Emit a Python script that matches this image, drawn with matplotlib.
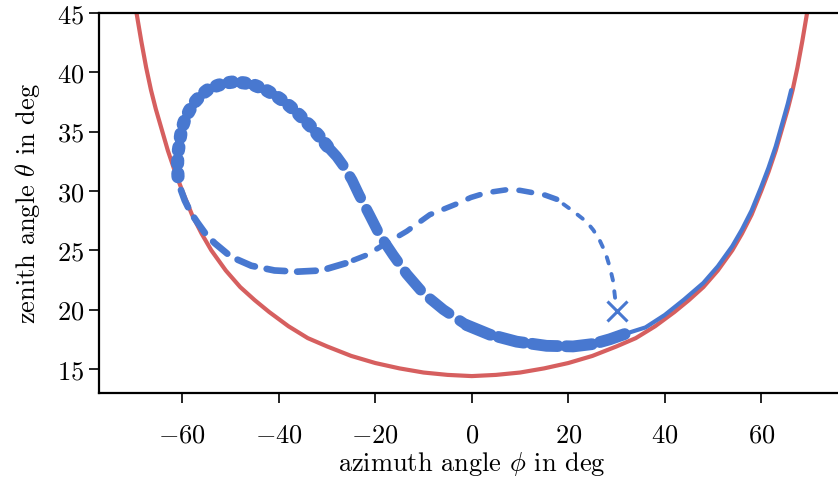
import matplotlib
matplotlib.use("Agg")
import matplotlib.pyplot as plt

plt.rcParams['font.family'] = 'serif'
plt.rcParams['font.serif'] = ['cmr10', 'DejaVu Serif']
plt.rcParams['mathtext.fontset'] = 'cm'
plt.rcParams['axes.formatter.use_mathtext'] = True

# boundary curve (red)
bound_phi = [-69.5, -68.5, -67.5, -66.5, -65.5, -64.5, -63.0, -61.5, -60.0, -58.0, -56.0,
             -54.0, -51.0, -48.0, -45.0, -42.0, -38.0, -34.0, -30.0, -25.0, -20.0, -15.0,
             -10.0, -5.0, 0.0, 5.0, 10.0, 15.0, 20.0, 25.0, 30.0, 34.0, 38.0, 42.0, 45.0,
             48.0, 51.0, 54.0, 56.0, 58.0, 60.0, 61.5, 63.0, 64.5, 65.5, 66.5, 67.5, 68.5, 69.5]
bound_theta = [45.0, 42.6, 40.4, 38.5, 36.9, 35.5, 33.4, 31.6, 30.0, 28.0, 26.4,
               25.0, 23.3, 21.9, 20.8, 19.8, 18.6, 17.6, 16.9, 16.1, 15.5, 15.05,
               14.7, 14.5, 14.4, 14.5, 14.7, 15.05, 15.5, 16.1, 16.9, 17.6, 18.6, 19.8, 20.8,
               21.9, 23.3, 25.0, 26.4, 28.0, 30.0, 31.6, 33.4, 35.5, 36.9, 38.5, 40.4, 42.6, 45.0]

# trajectory (blue), split into pieces of the path
start_phi, start_theta = 30.0, 19.9

a1_phi = [29.7, 29.3, 28.6, 27.7, 26.5, 25.2, 23.8, 21.0, 17.6]
a1_theta = [21.0, 22.4, 23.6, 24.8, 25.85, 26.7, 27.4, 28.3, 29.3]
a2_phi = [17.6, 15.2, 12.7, 10.0, 7.2, 3.0, -0.2, -3.2, -8.7, -13.5, -17.7, -21.8, -26.2]
a2_theta = [29.3, 29.65, 29.85, 30.05, 30.1, 29.85, 29.45, 28.9, 28.0, 26.6, 25.6, 24.6, 23.9]
b_phi = [-26.2, -31.2, -36.1, -40.9, -45.7, -49.9, -53.3, -55.2, -56.8, -58.3, -59.5, -60.4, -60.9]
b_theta = [23.9, 23.3, 23.2, 23.3, 23.7, 24.45, 25.6, 26.4, 27.3, 28.2, 29.2, 30.2, 31.2]
c_phi = [-60.9, -61.0, -60.9, -60.2, -59.5, -58.5, -57.4, -56.1, -54.5, -52.6, -50.9, -49.2,
         -47.1, -45.0, -42.9, -40.9, -38.8, -36.7, -35.0, -33.3, -31.5, -29.8]
c_theta = [31.2, 32.2, 33.2, 35.1, 36.0, 36.8, 37.5, 38.1, 38.6, 38.9, 39.1, 39.2,
           39.1, 38.9, 38.55, 38.1, 37.5, 36.8, 36.1, 35.4, 34.55, 33.7]
d_phi = [-29.8, -28.0, -26.4, -24.8, -23.4, -21.1, -19.1, -16.3, -13.5, -10.1, -5.9, -1.1]
d_theta = [33.7, 32.9, 32.0, 30.9, 29.7, 27.9, 26.3, 24.6, 23.0, 21.4, 20.0, 18.7]
e_phi = [-1.1, 3.7, 9.3, 15.5, 21.0, 25.1, 28.6, 32.1]
e_theta = [18.7, 17.9, 17.3, 16.95, 16.9, 17.1, 17.5, 18.0]
f_phi = [32.1, 36.0, 40.0, 44.0, 48.0, 51.0, 54.0, 56.0, 58.0, 60.0, 61.5, 63.0, 64.5, 65.5, 66.2]
f_theta = [18.0, 18.5, 19.55, 20.85, 22.25, 23.65, 25.35, 26.75, 28.35, 30.35, 31.95, 33.75,
           35.9, 37.35, 38.5]

red = '#d65f5f'
blue = '#4878d0'

fig = plt.figure(figsize=(8.38, 4.81), dpi=100)
ax = fig.add_axes([0.118, 0.181, 0.89, 0.79])

ax.plot(bound_phi, bound_theta, color=red, lw=3.0, solid_capstyle='butt',
        solid_joinstyle='round')

pieces = [
    (a1_phi, a1_theta, 2.8, (1.7, 2.8)),
    (a2_phi, a2_theta, 4.0, (2.3, 2.4)),
    (b_phi, b_theta, 4.8, (2.8, 1.8)),
    (c_phi, c_theta, 9.5, (0.25, 0.75)),
    (d_phi, d_theta, 7.8, (2.2, 1.2)),
    (e_phi, e_theta, 8.5, (2.2, 0.7)),
]
for xs, ys, w, pat in pieces:
    ax.plot(xs, ys, color=blue, lw=w, dashes=pat, dash_capstyle='round',
            dash_joinstyle='round')
ax.plot(f_phi, f_theta, color=blue, lw=3.0, solid_capstyle='round', solid_joinstyle='round')

ax.plot(start_phi, start_theta, marker='x', color=blue, markersize=14, mew=2.2)

ax.set_xlim(-77.3, 77.3)
ax.set_ylim(12.98, 45)
ax.set_xticks([-60, -40, -20, 0, 20, 40, 60])
ax.set_yticks([15, 20, 25, 30, 35, 40, 45])
ax.tick_params(labelsize=19, length=7, width=1.2, direction='out')
ax.tick_params(axis='x', pad=14.5)
for s in ax.spines.values():
    s.set_linewidth(1.6)

ax.set_xlabel(r"azimuth angle $\phi$ in deg", fontsize=19, labelpad=1.5)
ax.set_ylabel(r"zenith angle $\theta$ in deg", fontsize=19, labelpad=11)

fig.savefig('out.png', dpi=100)
